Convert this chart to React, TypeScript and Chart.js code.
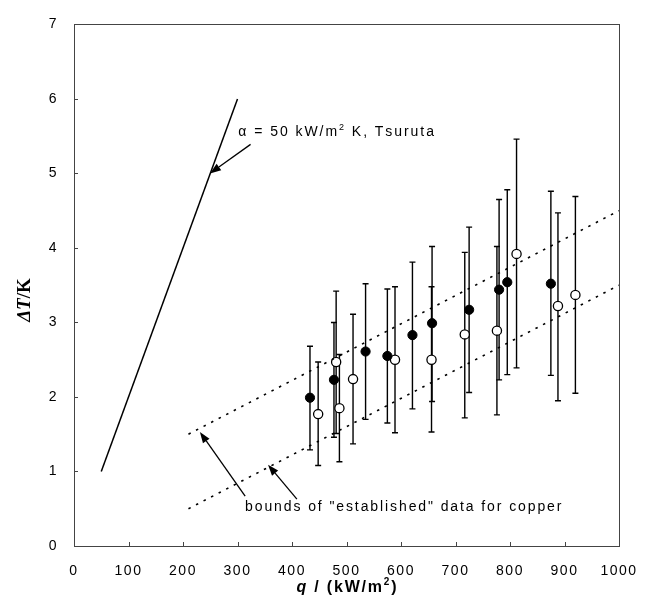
import React, { useEffect, useRef } from "react";
import { Chart, registerables } from "chart.js";

Chart.register(...registerables);

// ---------- data ----------
const xTickValues = [0, 100, 200, 300, 400, 500, 600, 700, 800, 900, 1000];
const yTickValues = [0, 1, 2, 3, 4, 5, 6, 7];

const filledQ = [433, 477, 535, 575, 621, 657, 725, 780, 795, 875];
const filledDT = [1.99, 2.23, 2.61, 2.55, 2.83, 2.99, 3.17, 3.44, 3.54, 3.52];
const filledLow = [1.29, 1.46, 1.7, 1.65, 1.84, 1.94, 2.06, 2.23, 2.3, 2.29];
const filledHigh = [2.68, 3.0, 3.52, 3.45, 3.81, 4.02, 4.28, 4.65, 4.78, 4.76];

const openQ = [448, 481, 487, 512, 589, 656, 717, 776, 812, 888, 920];
const openDT = [1.77, 2.47, 1.85, 2.24, 2.5, 2.5, 2.84, 2.89, 3.92, 3.22, 3.37];
const openLow = [1.08, 1.51, 1.13, 1.37, 1.52, 1.53, 1.72, 1.76, 2.39, 1.95, 2.05];
const openHigh = [2.47, 3.42, 2.57, 3.11, 3.48, 3.48, 3.94, 4.02, 5.46, 4.47, 4.69];

const tsurutaQ = [50, 300];
const tsurutaDT = [1, 6];
const upperBoundQ = [210, 1000];
const upperBoundDT = [1.5, 4.5];
const lowerBoundQ = [210, 1000];
const lowerBoundDT = [0.5, 3.5];

// annotation anchors (data units): [tail, tip]
const tsurutaArrow = [[324, 5.39], [249.5, 5.0]];
const boundsArrow1 = [[314, 0.67], [231, 1.53]];
const boundsArrow2 = [[409, 0.63], [356, 1.09]];
const tsurutaLabelAt = [301.5, 5.55];
const boundsLabelAt = [313.8, 0.52];
const boundsLabel = 'bounds of "established" data for copper';

const SANS = '"Liberation Sans", Arial, Helvetica, sans-serif';
const SERIF = '"Liberation Serif", "Times New Roman", serif';

function zip(xs: number[], ys: number[]) {
  return xs.map((x, i) => ({ x, y: ys[i] }));
}

function drawSpaced(ctx: CanvasRenderingContext2D, text: string, x: number, y: number, sp: number) {
  let cx = x;
  for (const ch of text) {
    ctx.fillText(ch, cx, y);
    cx += ctx.measureText(ch).width + sp;
  }
  return cx;
}
function spacedWidth(ctx: CanvasRenderingContext2D, text: string, sp: number) {
  let w = 0;
  for (const ch of text) w += ctx.measureText(ch).width + sp;
  return w - sp;
}

function drawArrow(ctx: CanvasRenderingContext2D, x0: number, y0: number, x1: number, y1: number) {
  const ang = Math.atan2(y1 - y0, x1 - x0);
  const hl = 11;
  const hw = 4;
  const bx = x1 - hl * Math.cos(ang);
  const by = y1 - hl * Math.sin(ang);
  ctx.beginPath();
  ctx.moveTo(x0, y0);
  ctx.lineTo(bx, by);
  ctx.stroke();
  ctx.beginPath();
  ctx.moveTo(x1, y1);
  ctx.lineTo(bx + hw * Math.sin(ang), by - hw * Math.cos(ang));
  ctx.lineTo(bx - hw * Math.sin(ang), by + hw * Math.cos(ang));
  ctx.closePath();
  ctx.fill();
}

const decorPlugin = {
  id: "decor",
  beforeDraw(chart: any) {
    (chart.ctx as any).letterSpacing = "1.5px";
  },
  beforeDatasetsDraw(chart: any) {
    const ctx: CanvasRenderingContext2D = chart.ctx;
    const xs = chart.scales.x;
    const ys = chart.scales.y;
    ctx.save();
    ctx.strokeStyle = "#000";
    ctx.lineWidth = 1.4;
    const bars = (q: number[], lo: number[], hi: number[]) => {
      q.forEach((v, i) => {
        const px = xs.getPixelForValue(v);
        const pl = ys.getPixelForValue(lo[i]);
        const ph = ys.getPixelForValue(hi[i]);
        ctx.beginPath();
        ctx.moveTo(px, pl);
        ctx.lineTo(px, ph);
        ctx.moveTo(px - 3, pl);
        ctx.lineTo(px + 3, pl);
        ctx.moveTo(px - 3, ph);
        ctx.lineTo(px + 3, ph);
        ctx.stroke();
      });
    };
    bars(filledQ, filledLow, filledHigh);
    bars(openQ, openLow, openHigh);
    ctx.restore();
  },
  afterDatasetsDraw(chart: any) {
    const ctx: CanvasRenderingContext2D = chart.ctx;
    const xs = chart.scales.x;
    const ys = chart.scales.y;
    const a = chart.chartArea;
    ctx.save();
    (ctx as any).letterSpacing = "0px";
    // frame
    ctx.strokeStyle = "#444";
    ctx.lineWidth = 1;
    ctx.strokeRect(Math.round(a.left) + 0.5, Math.round(a.top) + 0.5, Math.round(a.right - a.left), Math.round(a.bottom - a.top));
    // inward tick marks
    ctx.beginPath();
    xTickValues.forEach((v) => {
      const px = Math.round(xs.getPixelForValue(v)) + 0.5;
      ctx.moveTo(px, a.bottom);
      ctx.lineTo(px, a.bottom - 4);
    });
    yTickValues.forEach((v) => {
      const py = Math.round(ys.getPixelForValue(v)) + 0.5;
      ctx.moveTo(a.left, py);
      ctx.lineTo(a.left + 4, py);
    });
    ctx.stroke();

    // arrows
    ctx.strokeStyle = "#000";
    ctx.fillStyle = "#000";
    ctx.lineWidth = 1.3;
    [tsurutaArrow, boundsArrow1, boundsArrow2].forEach((arr) => {
      drawArrow(
        ctx,
        xs.getPixelForValue(arr[0][0]),
        ys.getPixelForValue(arr[0][1]),
        xs.getPixelForValue(arr[1][0]),
        ys.getPixelForValue(arr[1][1])
      );
    });

    // annotation texts
    ctx.textBaseline = "middle";
    ctx.textAlign = "left";
    ctx.font = `14px ${SANS}`;
    let tx = xs.getPixelForValue(tsurutaLabelAt[0]);
    const ty = ys.getPixelForValue(tsurutaLabelAt[1]);
    tx = drawSpaced(ctx, "\u03b1 = 50 kW/m", tx, ty, 1.95);
    ctx.font = `9px ${SANS}`;
    tx = drawSpaced(ctx, "2", tx, ty - 5, 1.95);
    ctx.font = `14px ${SANS}`;
    drawSpaced(ctx, " K, Tsuruta", tx, ty, 1.95);

    drawSpaced(ctx, boundsLabel, xs.getPixelForValue(boundsLabelAt[0]), ys.getPixelForValue(boundsLabelAt[1]), 1.9);

    // x title
    const cx = (a.left + a.right) / 2;
    const cy = 588;
    const sp = 1.8;
    const parts: [string, string, number][] = [
      ["q", `italic bold 16px ${SANS}`, 0],
      [" / (kW/m", `bold 16px ${SANS}`, 0],
      ["2", `bold 10px ${SANS}`, -6],
      [")", `bold 16px ${SANS}`, 0],
    ];
    let total = 0;
    parts.forEach(([t, f]) => {
      ctx.font = f;
      total += spacedWidth(ctx, t, sp) + sp;
    });
    total -= sp;
    let x = cx - total / 2;
    parts.forEach(([t, f, dy]) => {
      ctx.font = f;
      x = drawSpaced(ctx, t, x, cy + dy, sp);
    });

    // y title (rotated)
    ctx.translate(25, 300);
    ctx.rotate(-Math.PI / 2);
    const yparts: [string, string][] = [
      ["\u0394T", `italic bold 19px ${SERIF}`],
      ["/K", `bold 19px ${SERIF}`],
    ];
    let tw = 0;
    yparts.forEach(([t, f]) => {
      ctx.font = f;
      tw += ctx.measureText(t).width;
    });
    let yx = -tw / 2;
    yparts.forEach(([t, f]) => {
      ctx.font = f;
      ctx.fillText(t, yx, 0);
      yx += ctx.measureText(t).width;
    });
    ctx.restore();
  },
  afterDraw(chart: any) {
    (chart.ctx as any).letterSpacing = "0px";
  },
};

export default function App() {
  const canvasRef = useRef<HTMLCanvasElement | null>(null);

  useEffect(() => {
    if (!canvasRef.current) return;
    const chart = new Chart(canvasRef.current, {
      type: "scatter",
      data: {
        datasets: [
          {
            label: "Tsuruta",
            data: zip(tsurutaQ, tsurutaDT),
            showLine: true,
            borderColor: "#000",
            borderWidth: 1.5,
            pointRadius: 0,
          },
          {
            label: "upper bound",
            data: zip(upperBoundQ, upperBoundDT),
            showLine: true,
            borderColor: "#000",
            borderWidth: 1.6,
            borderDash: [2.5, 6],
            pointRadius: 0,
          },
          {
            label: "lower bound",
            data: zip(lowerBoundQ, lowerBoundDT),
            showLine: true,
            borderColor: "#000",
            borderWidth: 1.6,
            borderDash: [2.5, 6],
            pointRadius: 0,
          },
          {
            label: "filled",
            data: zip(filledQ, filledDT),
            pointRadius: 4.6,
            pointBackgroundColor: "#000",
            pointBorderColor: "#000",
            pointBorderWidth: 1,
          },
          {
            label: "open",
            data: zip(openQ, openDT),
            pointRadius: 4.6,
            pointBackgroundColor: "#fff",
            pointBorderColor: "#000",
            pointBorderWidth: 1.3,
          },
        ],
      },
      options: {
        animation: false,
        responsive: false,
        maintainAspectRatio: false,
        layout: { padding: { left: 0, top: 15, right: 34, bottom: 0 } },
        plugins: {
          legend: { display: false },
          tooltip: { enabled: false },
        },
        scales: {
          x: {
            type: "linear",
            min: 0,
            max: 1000,
            afterFit: (s: any) => {
              s.height = 58;
            },
            afterBuildTicks: (s: any) => {
              s.ticks = xTickValues.map((v) => ({ value: v }));
            },
            grid: { display: false, drawTicks: false },
            border: { display: false },
            ticks: {
              padding: 17,
              color: "#000",
              font: { family: SANS, size: 14 },
              maxRotation: 0,
              callback: (v: any) => String(v),
            },
          },
          y: {
            type: "linear",
            min: 0,
            max: 7,
            afterFit: (s: any) => {
              s.width = 74;
            },
            afterBuildTicks: (s: any) => {
              s.ticks = yTickValues.map((v) => ({ value: v }));
            },
            grid: { display: false, drawTicks: false },
            border: { display: false },
            ticks: {
              padding: 16,
              color: "#000",
              font: { family: SANS, size: 14 },
              callback: (v: any) => String(v),
            },
          },
        },
      },
      plugins: [decorPlugin],
    });
    return () => chart.destroy();
  }, []);

  return (
    <div style={{ position: "fixed", left: 0, top: 0, width: 653, height: 604, background: "#fff" }}>
      <canvas ref={canvasRef} width={653} height={604} style={{ width: 653, height: 604 }} />
    </div>
  );
}
